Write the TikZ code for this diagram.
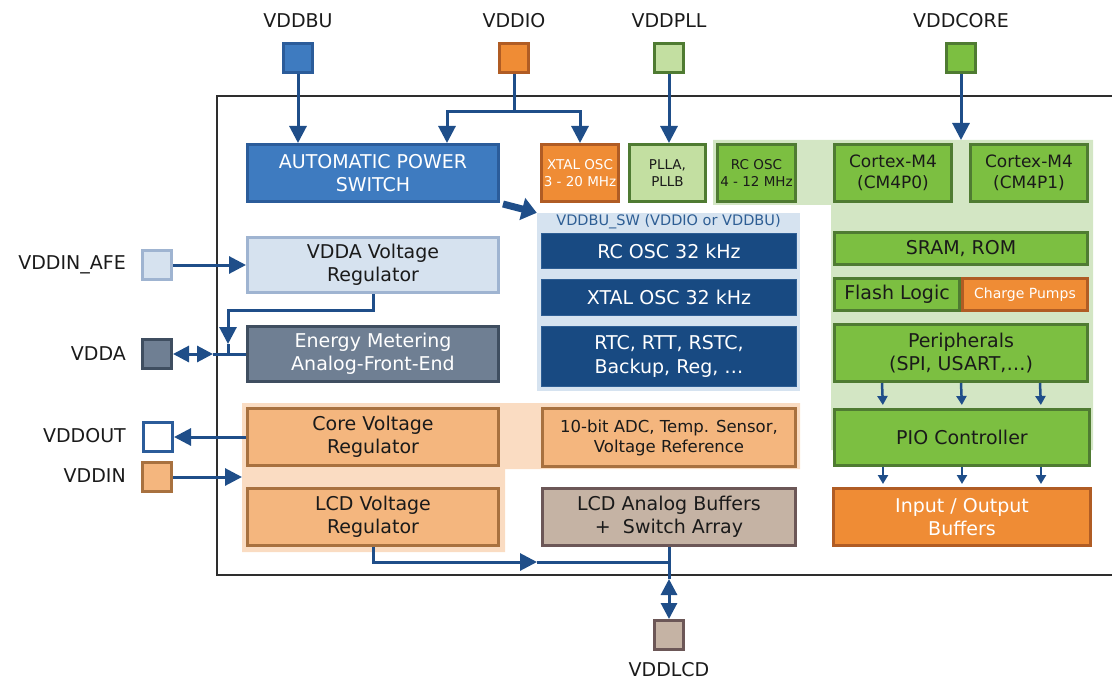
\documentclass[tikz,border=0pt]{standalone}
\usepackage{fontspec}
\setmainfont{DejaVu Sans}
\usepackage{xcolor}
\usepackage{tikz}
\usetikzlibrary{arrows.meta}

\definecolor{wireblue}{HTML}{1F4E89}
\definecolor{chipgray}{HTML}{2E2E2E}
\definecolor{inkdark}{HTML}{1A1A1A}
\definecolor{apsfill}{HTML}{3E7BC0}
\definecolor{apsedge}{HTML}{2B5C9A}
\definecolor{navyfill}{HTML}{184A82}
\definecolor{navyedge}{HTML}{2E5E94}
\definecolor{swback}{HTML}{D6E3F0}
\definecolor{swtext}{HTML}{2E5E94}
\definecolor{ltbluefill}{HTML}{D6E2EF}
\definecolor{ltblueedge}{HTML}{9FB4D1}
\definecolor{slatefill}{HTML}{6F7F93}
\definecolor{slateedge}{HTML}{3F4E60}
\definecolor{orangefill}{HTML}{EF8C35}
\definecolor{orangeedge}{HTML}{B05C24}
\definecolor{peachfill}{HTML}{F4B67E}
\definecolor{peachedge}{HTML}{A8713F}
\definecolor{peachback}{HTML}{FADCC2}
\definecolor{greenfill}{HTML}{7CBF41}
\definecolor{greenedge}{HTML}{4F7B32}
\definecolor{palegreen}{HTML}{C3DFA1}
\definecolor{greenback}{HTML}{D3E6C4}
\definecolor{taupefill}{HTML}{C5B3A4}
\definecolor{taupeedge}{HTML}{6C5757}

\begin{document}
\begin{tikzpicture}[x=1pt, y=-1pt,
		box/.style={draw, line width=3pt, inner sep=1pt, align=center,
			minimum width=251pt, minimum height=57pt, text=inkdark,
			font=\fontsize{19}{23.5}\selectfont},
		apsbox/.style={box, fill=apsfill, draw=apsedge, text=white},
		navybox/.style={box, fill=navyfill, draw=navyedge, line width=1pt, minimum width=255pt, text=white},
		afebox/.style={box, fill=slatefill, draw=slateedge, text=white},
		regbox/.style={box, fill=ltbluefill, draw=ltblueedge},
		peachbox/.style={box, fill=peachfill, draw=peachedge},
		orangebox/.style={box, fill=orangefill, draw=orangeedge, text=white},
		greenbox/.style={box, fill=greenfill, draw=greenedge},
		lcdbox/.style={box, fill=taupefill, draw=taupeedge},
		clockbox/.style={minimum width=77pt, inner sep=0pt, font=\fontsize{13.5}{17}\selectfont},
		pinbox/.style={draw, line width=3pt, minimum size=29pt, inner sep=0pt},
		pinname/.style={text=inkdark, inner sep=0pt, font=\fontsize{19}{22}\selectfont},
		wire/.style={draw=wireblue, line width=3pt},
		feed/.style={wire, -{Triangle[length=17pt, width=17pt]}},
		twoway/.style={wire, {Triangle[length=16pt, width=16pt]}-{Triangle[length=16pt, width=16pt]}},
		tap/.style={draw=wireblue, line width=2.5pt, shorten >=3pt, -{Triangle[length=9pt, width=10pt]}}
	]
		\clip (0,0) rectangle (1112,682);
		
		% chip outline
		\draw[chipgray, line width=2.6pt] (217,96) rectangle (1130,575);
		
		% power domains
		\fill[greenback] (713,140) -- (1093,140) -- (1093,450) -- (831,450) -- (831,205) -- (713,205) -- cycle;
		\fill[peachback] (242,403) -- (800,403) -- (800,469) -- (505,469) -- (505,552) -- (242,552) -- cycle;
		\node[fill=swback, minimum width=263pt, minimum height=178pt, inner sep=0pt] (swbox) at (668.5,302) {};
		\node[text=swtext, inner sep=0pt, font=\fontsize{14.5}{17}\selectfont] (swname) at (668.5,222) {VDDBU\_SW (VDDIO or VDDBU)};
		
		% top row
		\node[apsbox] (aps) at (373,173) {AUTOMATIC POWER\\SWITCH};
		\node[orangebox, clockbox] (xtal) at (580,173) {XTAL OSC\\3 - 20 MHz};
		\node[box, fill=palegreen, draw=greenedge, clockbox, minimum width=76pt] (pll) at (667.5,173) {PLLA,\\PLLB};
		\node[greenbox, clockbox, minimum width=78pt] (rcosc) at (756.5,173) {RC OSC\\4 - 12 MHz};
		\node[greenbox, minimum width=117pt, font=\fontsize{17}{21.5}\selectfont] (cm0) at (893,173) {Cortex-M4\\(CM4P0)};
		\node[greenbox, minimum width=117pt, font=\fontsize{17}{21.5}\selectfont] (cm1) at (1029,173) {Cortex-M4\\(CM4P1)};
		
		% core domain
		\node[greenbox, minimum width=253pt, minimum height=32pt] (sram) at (961,248.5) {SRAM, ROM};
		\node[greenbox, minimum width=125pt, minimum height=32pt] (flash) at (897,294.5) {Flash Logic};
		\node[orangebox, minimum width=125pt, minimum height=32pt, font=\fontsize{14}{17}\selectfont] (pumps) at (1025,294.5) {Charge Pumps};
		\node[greenbox, minimum width=253pt] (periph) at (961,353) {Peripherals\\(SPI, USART,\dots)};
		\node[greenbox, minimum width=255pt, minimum height=56pt] (pio) at (962,437.5) {PIO Controller};
		\node[orangebox, minimum width=257pt] (iob) at (962,517) {Input / Output\\Buffers};
		
		% regulators
		\node[regbox, minimum height=55pt] (vreg) at (373,265) {VDDA Voltage\\Regulator};
		\node[afebox, minimum height=55pt] (afe) at (373,354) {Energy Metering\\Analog-Front-End};
		\node[peachbox] (corereg) at (373,437) {Core Voltage\\Regulator};
		\node[peachbox] (lcdreg) at (373,517) {LCD Voltage\\Regulator};
		
		% backup domain and analog
		\node[navybox, minimum height=35pt] (rc32) at (669,251) {RC OSC 32 kHz};
		\node[navybox, minimum height=36pt] (xt32) at (669,297.5) {XTAL OSC 32 kHz};
		\node[navybox, minimum height=60pt] (rtc) at (669,356.5) {RTC, RTT, RSTC,\\Backup, Reg, \dots};
		\node[peachbox, minimum width=253pt, minimum height=58pt, font=\fontsize{16.5}{20}\selectfont] (adc) at (669,437.5) {10-bit ADC, Temp. Sensor,\\Voltage Reference};
		\node[lcdbox, minimum width=253pt] (lcdbuf) at (669,517) {LCD Analog Buffers\\+\ \ Switch Array};
		
		% supply pins
		\node[pinbox, fill=apsfill, draw=apsedge] (vddbu) at (298,58) {};
		\node[pinbox, fill=orangefill, draw=orangeedge] (vddio) at (514,58) {};
		\node[pinbox, fill=palegreen, draw=greenedge] (vddpll) at (669,58) {};
		\node[pinbox, fill=greenfill, draw=greenedge] (vddcore) at (961,58) {};
		\node[pinbox, fill=ltbluefill, draw=ltblueedge] (vddinafe) at (157,265) {};
		\node[pinbox, fill=slatefill, draw=slateedge] (vdda) at (157,354) {};
		\node[pinbox, fill=white, draw=apsedge] (vddout) at (158,437) {};
		\node[pinbox, fill=peachfill, draw=peachedge] (vddin) at (157,477) {};
		\node[pinbox, fill=taupefill, draw=taupeedge] (vddlcd) at (669,635) {};
		
		\node[pinname] (vddbu-name) at (298,21) {VDDBU};
		\node[pinname] (vddio-name) at (514,21) {VDDIO};
		\node[pinname] (vddpll-name) at (669,21) {VDDPLL};
		\node[pinname] (vddcore-name) at (961,21) {VDDCORE};
		\node[pinname, anchor=east] (vddinafe-name) at (126,265) {VDDIN\_AFE};
		\node[pinname, anchor=east] (vdda-name) at (126,354) {VDDA};
		\node[pinname, anchor=east] (vddout-name) at (126,436) {VDDOUT};
		\node[pinname, anchor=east] (vddin-name) at (126,476) {VDDIN};
		\node[pinname] (vddlcd-name) at (669,670) {VDDLCD};
		
		% supply routing
		\draw[feed] (vddbu.south) -- (vddbu.south |- aps.north);
		\coordinate (iosplit) at (514,112);
		\draw[feed] (vddio.south) -- (iosplit) -| ([xshift=74pt]aps.north);
		\draw[feed] (iosplit) -| (xtal.north);
		\draw[feed] (vddpll.south) -- (vddpll.south |- pll.north);
		\coordinate (coretop) at (961,140);
		\draw[feed] (vddcore.south) -- (coretop);
		\draw[draw=wireblue, line width=7pt, -{Triangle[length=15pt, width=22pt]}] ([xshift=3pt, yshift=-1pt]aps.south east) -- (swbox.north west);
		
		\draw[feed] (vddinafe.east) -- (vreg.west);
		\coordinate (abend) at (228,310);
		\coordinate (ahead) at (228,344);
		\coordinate (ajoin) at (228,354);
		\coordinate (amid) at (213,354);
		\draw[feed] (vreg.south) |- (abend) -- (ahead);
		\draw[wire] (ahead) -- (ajoin);
		\draw[twoway] (vdda.east) -- (amid);
		\draw[wire] (amid) -- (afe.west);
		
		\draw[feed] (corereg.west) -- (vddout.east);
		\coordinate (peachin) at (242,477);
		\draw[feed] (vddin.east) -- (peachin);
		
		\coordinate (lcdhead) at (537,562);
		\coordinate (lcdjoin) at (669,562);
		\coordinate (lcdexit) at (669,579);
		\draw[feed] (lcdreg.south) |- (lcdhead);
		\draw[wire] (lcdhead) -- (lcdjoin);
		\draw[wire] (lcdbuf.south) -- (lcdexit);
		\draw[twoway] (lcdexit) -- (vddlcd.north);
		
		\foreach \dx in {-79,0,79}{
			\draw[tap] ([xshift=\dx pt]periph.south) -- ([xshift=\dx pt]pio.north);
			\draw[tap] ([xshift=\dx pt]pio.south) -- ([xshift=\dx pt]iob.north);
		}
	\end{tikzpicture}
\end{document}
